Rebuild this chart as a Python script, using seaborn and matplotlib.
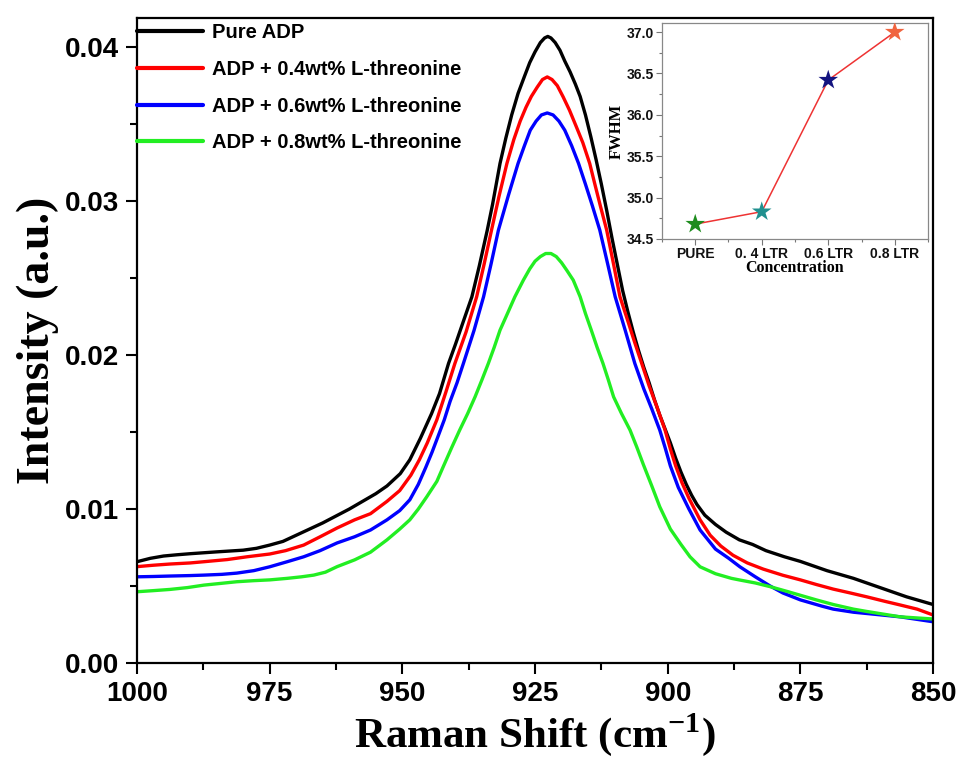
import numpy as np
import pandas as pd
import matplotlib
matplotlib.use("Agg")
import matplotlib.pyplot as plt
from matplotlib.ticker import MultipleLocator, FormatStrFormatter
import seaborn as sns

# ---------------- data ----------------
labels = ["Pure ADP", "ADP + 0.4wt% L-threonine",
          "ADP + 0.6wt% L-threonine", "ADP + 0.8wt% L-threonine"]
colors = ["#000000", "#ff0000", "#0000ff", "#22ee22"]

x_pure = [1000, 997.5, 995, 992.5, 990, 985, 980, 977.5, 975, 972.5, 970, 967.5,
          965, 962.5, 960, 957.5, 955, 952.9, 950.4, 948.6, 946.6, 944.5, 943,
          941.3, 940, 938.5, 936.9, 935.5, 934, 933, 931.6, 930.5, 929.4, 928.2,
          927, 926, 925, 924, 923.2, 922.6, 922, 921.2, 920.3, 919.4, 918.4,
          917.4, 916.5, 915.5, 914.5, 913.5, 912.5, 911.5, 910.5, 909.5, 908.5,
          907.5, 906.5, 905.5, 904.5, 903.5, 902.5, 901.5, 900.5, 899.5, 898.5,
          897.5, 896.5, 895.5, 894.5, 893, 891, 889, 886.5, 884, 881.5, 878, 875,
          870, 865, 860, 855, 850]
y_pure = [0.00658, 0.00680, 0.00695, 0.00703, 0.00710, 0.00722, 0.00733, 0.00745,
          0.00766, 0.00790, 0.00830, 0.00870, 0.00910, 0.00955, 0.01000, 0.01050,
          0.01100, 0.01150, 0.01230, 0.01320, 0.01460, 0.01620, 0.01750, 0.01946,
          0.02070, 0.02220, 0.02379, 0.02580, 0.02812, 0.02980, 0.03245, 0.03410,
          0.03560, 0.03700, 0.03810, 0.03900, 0.03970, 0.04030, 0.04060, 0.04070,
          0.04060, 0.04030, 0.03980, 0.03910, 0.03840, 0.03760, 0.03680, 0.03560,
          0.03420, 0.03270, 0.03110, 0.02940, 0.02760, 0.02590, 0.02420, 0.02280,
          0.02150, 0.02030, 0.01920, 0.01820, 0.01710, 0.01610, 0.01520, 0.01430,
          0.01330, 0.01240, 0.01160, 0.01090, 0.01030, 0.00960, 0.00900, 0.00850,
          0.00800, 0.00770, 0.00730, 0.00690, 0.00660, 0.00600, 0.00550, 0.00490,
          0.00430, 0.00380]

x_04 = [1000, 997, 993.8, 990, 987.4, 983, 979.3, 975, 972, 968.6, 965.5, 962.3,
        959, 956, 952.9, 950.5, 948.4, 946.8, 945.3, 943.5, 941.8, 940.1, 938,
        936, 934.6, 933.2, 931.8, 930.3, 929, 927.8, 926.7, 925.7, 924.6, 923.6,
        922.7, 921.8, 920.8, 919.7, 918.5, 917.3, 916, 914.7, 913.8, 912.7, 911.5,
        910.2, 909, 907.5, 906.2, 904.9, 903.5, 902, 900.5, 899.5, 898.5, 897.3,
        896, 894.8, 893.9, 892, 890, 887.7, 885, 882, 878.3, 875, 872, 868.8,
        865.6, 862.5, 859, 856.2, 853, 850]
y_04 = [0.00626, 0.00635, 0.00643, 0.00650, 0.00658, 0.00672, 0.00690, 0.00708,
        0.00730, 0.00766, 0.00820, 0.00877, 0.00930, 0.00970, 0.01050, 0.01120,
        0.01220, 0.01320, 0.01430, 0.01580, 0.01760, 0.01946, 0.02150, 0.02379,
        0.02590, 0.02812, 0.03030, 0.03245, 0.03400, 0.03520, 0.03610, 0.03680,
        0.03740, 0.03790, 0.03807, 0.03790, 0.03750, 0.03677, 0.03590, 0.03490,
        0.03380, 0.03245, 0.03120, 0.02970, 0.02812, 0.02590, 0.02379, 0.02220,
        0.02080, 0.01946, 0.01800, 0.01660, 0.01513, 0.01390, 0.01280, 0.01170,
        0.01070, 0.00990, 0.00930, 0.00830, 0.00760, 0.00700, 0.00650, 0.00610,
        0.00570, 0.00540, 0.00510, 0.00480, 0.00455, 0.00430, 0.00400, 0.00377,
        0.00350, 0.00312]

x_06 = [1000, 997, 993.8, 990, 987.4, 984, 981.2, 978, 975, 971.7, 968.6, 965.5,
        962.3, 959, 956, 952.9, 950.5, 948.6, 947, 945.6, 944.4, 943.3, 942.1,
        941, 939.7, 938.5, 936.5, 934.7, 933.3, 931.9, 930, 928.2, 927, 925.9,
        924.8, 923.8, 922.7, 921.6, 920.5, 919.4, 918.1, 916.8, 915.5, 914.2,
        912.8, 911.3, 909.9, 908, 906.2, 904.5, 903, 901.5, 900.5, 899.5, 898,
        896, 893.9, 891, 888.5, 886.4, 883.5, 880.7, 878.3, 875, 871, 868.8, 865,
        862, 856.2, 850]
y_06 = [0.00560, 0.00562, 0.00565, 0.00568, 0.00571, 0.00576, 0.00584, 0.00600,
        0.00625, 0.00658, 0.00690, 0.00730, 0.00780, 0.00820, 0.00864, 0.00930,
        0.00990, 0.01060, 0.01160, 0.01270, 0.01370, 0.01470, 0.01580, 0.01700,
        0.01820, 0.01946, 0.02160, 0.02379, 0.02590, 0.02812, 0.03040, 0.03245,
        0.03360, 0.03461, 0.03520, 0.03560, 0.03573, 0.03560, 0.03520, 0.03461,
        0.03360, 0.03245, 0.03110, 0.02970, 0.02812, 0.02590, 0.02379, 0.02160,
        0.01946, 0.01780, 0.01650, 0.01513, 0.01400, 0.01280, 0.01140, 0.01000,
        0.00864, 0.00740, 0.00680, 0.00625, 0.00560, 0.00500, 0.00455, 0.00410,
        0.00370, 0.00350, 0.00330, 0.00320, 0.00300, 0.00268]

x_08 = [1000, 997, 993.8, 990.5, 987.4, 984, 981.2, 978, 975, 971.7, 969, 966.7,
        964.5, 962.3, 959, 956, 952.9, 950.5, 948.6, 947, 945.4, 943.5, 942.3,
        940.7, 939.2, 937.7, 936.3, 935, 933.8, 932.7, 931.6, 930.2, 928.8, 927.2,
        926, 925, 924, 923, 922, 921, 920, 919, 917.8, 916.5, 915.5, 914.4, 913.3,
        912.2, 911.2, 910.2, 908.7, 907.1, 905.8, 904.6, 903, 901.5, 899.5, 897.5,
        895.8, 893.9, 891, 888, 886.4, 883.5, 880.7, 877.5, 875, 872, 868.8, 865,
        862.5, 856.2, 850]
y_08 = [0.00463, 0.00470, 0.00478, 0.00490, 0.00506, 0.00518, 0.00528, 0.00535,
        0.00540, 0.00550, 0.00560, 0.00571, 0.00590, 0.00626, 0.00670, 0.00720,
        0.00800, 0.00870, 0.00930, 0.01000, 0.01080, 0.01180, 0.01275, 0.01400,
        0.01513, 0.01620, 0.01729, 0.01840, 0.01946, 0.02050, 0.02162, 0.02270,
        0.02379, 0.02487, 0.02560, 0.02610, 0.02640, 0.02660, 0.02660, 0.02640,
        0.02600, 0.02550, 0.02487, 0.02379, 0.02270, 0.02162, 0.02050, 0.01946,
        0.01840, 0.01729, 0.01620, 0.01513, 0.01400, 0.01290, 0.01150, 0.01015,
        0.00870, 0.00770, 0.00690, 0.00625, 0.00580, 0.00550, 0.00539, 0.00520,
        0.00496, 0.00465, 0.00440, 0.00410, 0.00380, 0.00350, 0.00335, 0.00300,
        0.00286]

# inset data
conc_labels = ["PURE", "0. 4 LTR", "0.6 LTR", "0.8 LTR"]
fwhm = [34.68, 34.83, 36.42, 37.0]
star_colors = ["#1e8c1e", "#20908f", "#141480", "#f0643f"]

# ---------------- figure ----------------
sns.set_style("ticks")
plt.rcParams["font.family"] = ["Liberation Sans", "DejaVu Sans"]
plt.rcParams["mathtext.fontset"] = "stix"
for k in ["text.color", "axes.labelcolor", "xtick.color", "ytick.color"]:
    plt.rcParams[k] = "black"

fig = plt.figure(figsize=(9.58, 7.58), dpi=100)
ax = fig.add_axes([0.143, 0.1253, 0.831, 0.851])

series_x = [x_pure, x_04, x_06, x_08]
series_y = [y_pure, y_04, y_06, y_08]
for xs, ys, lab, col in zip(series_x, series_y, labels, colors):
    df = pd.DataFrame({"shift": xs, "intensity": ys})
    sns.lineplot(data=df, x="shift", y="intensity", ax=ax, color=col,
                 linewidth=2.4, label=lab, estimator=None, sort=True,
                 solid_joinstyle="round", solid_capstyle="round")

ax.set_xlim(1000, 850)
ax.set_ylim(0, 0.0419)
ax.xaxis.set_major_locator(MultipleLocator(25))
ax.xaxis.set_minor_locator(MultipleLocator(12.5))
ax.yaxis.set_major_locator(MultipleLocator(0.01))
ax.yaxis.set_minor_locator(MultipleLocator(0.005))
ax.yaxis.set_major_formatter(FormatStrFormatter("%.2f"))
ax.tick_params(axis="both", which="major", direction="out", length=8,
               width=1.5, labelsize=20, pad=5, colors="black")
ax.tick_params(axis="both", which="minor", direction="out", length=5,
               width=1.5, colors="black")
ax.tick_params(top=False, right=False, which="both")
for lab in ax.get_xticklabels() + ax.get_yticklabels():
    lab.set_fontweight("bold")
for sp in ax.spines.values():
    sp.set_linewidth(1.6)
    sp.set_color("black")
    sp.set_visible(True)

ax.set_xlabel(r"Raman Shift (cm$^{\mathregular{-1}}$)", family="Liberation Serif",
              fontsize=31, fontweight="bold", labelpad=3, color="black")
ax.set_ylabel("Intensity (a.u.)", family="Liberation Serif", fontsize=33,
              fontweight="bold", labelpad=4, color="black")

leg = ax.legend(loc="upper left", bbox_to_anchor=(0.0, 0.992), frameon=False,
                borderpad=0, borderaxespad=0, handlelength=3.3,
                handletextpad=0.4, labelspacing=0.88,
                prop={"family": "Liberation Sans", "weight": "bold", "size": 14.5})
for h in leg.get_lines():
    h.set_linewidth(3)
for t in leg.get_texts():
    t.set_color("black")

# ---------------- inset ----------------
axi = fig.add_axes([0.691, 0.6847, 0.2777, 0.285])
dfi = pd.DataFrame({"pos": np.arange(len(fwhm)), "fwhm": fwhm,
                    "conc": conc_labels})
sns.lineplot(data=dfi, x="pos", y="fwhm", ax=axi, color="#ee3333",
             linewidth=1.1, estimator=None, sort=False)
sns.scatterplot(data=dfi, x="pos", y="fwhm", hue="conc", palette=star_colors,
                marker="*", s=220, edgecolor=None, linewidth=0, ax=axi,
                legend=False, zorder=5)
axi.set_xlim(-0.5, 3.5)
axi.set_ylim(34.5, 37.11)
axi.set_xticks(np.arange(len(conc_labels)))
axi.set_xticklabels(conc_labels)
axi.xaxis.set_minor_locator(MultipleLocator(0.5))
axi.yaxis.set_major_locator(MultipleLocator(0.5))
axi.yaxis.set_minor_locator(MultipleLocator(0.25))
axi.yaxis.set_major_formatter(FormatStrFormatter("%.1f"))
axi.tick_params(axis="both", which="major", direction="out", length=4,
                width=0.8, labelsize=10, pad=2, color="#777777",
                labelcolor="#111111")
axi.tick_params(axis="both", which="minor", direction="out", length=2,
                width=0.8, color="#777777")
for lab in axi.get_xticklabels() + axi.get_yticklabels():
    lab.set_fontweight("bold")
for sp in axi.spines.values():
    sp.set_visible(True)
    sp.set_color("#888888")
    sp.set_linewidth(0.9)
axi.set_xlabel("Concentration", family="Liberation Serif", fontsize=11.5,
               fontweight="bold", labelpad=-1, color="black")
axi.set_ylabel("FWHM", family="Liberation Serif", fontsize=12,
               fontweight="bold", labelpad=1, color="black")

fig.savefig("out.png", dpi=100)
